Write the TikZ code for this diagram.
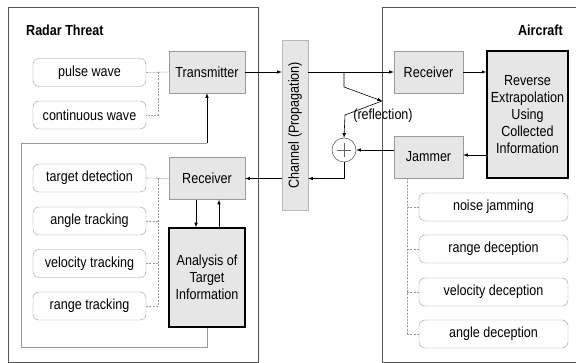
\documentclass[tikz,border=0pt]{standalone}
\usepackage{fontspec}
\setmainfont[FakeStretch=0.86]{Liberation Sans}
\usetikzlibrary{calc}

\definecolor{boxgray}{HTML}{E6E6E6}
\definecolor{edgegray}{HTML}{9A9A9A}
\definecolor{framegray}{HTML}{555555}

\tikzset{
  txt/.style={font=\fontsize{14.6}{17}\selectfont, inner sep=0pt},
  block/.style={txt, draw=edgegray, fill=boxgray, minimum width=76pt, minimum height=42pt},
  bigblock/.style={block, draw=black, line width=1.3pt, align=center},
  item/.style={txt, draw=edgegray, rounded corners=6pt, minimum width=113pt, minimum height=28pt},
  arrow/.style={-latex, line width=0.6pt},
  dashline/.style={draw=edgegray, dash pattern=on 2pt off 1.2pt, line width=0.6pt},
  title/.style={txt, font=\fontsize{14.6}{17}\selectfont\bfseries}
}

\begin{document}
\begin{tikzpicture}[x=1pt,y=-1pt]
\useasboundingbox (0,0) rectangle (576,363);

% Rahmen
\draw[framegray, line width=0.8pt] (8,7) rectangle (258,362);
\draw[framegray, line width=0.8pt] (580,7) -- (382,7) -- (382,362) -- (580,362);

\node[title, anchor=west] (threat) at (26,30) {Radar Threat};
\node[title, anchor=east] (aircraft) at (563,30) {Aircraft};

% Radar
\node[block] (tx) at (207,72) {Transmitter};
\node[block] (rxt) at (207,178.5) {Receiver};
\node[bigblock, minimum height=99pt] (an) at (207,277.5)
{Analysis of\\Target\\Information};

\node[item] (pulse) at (89.5,72.5) {pulse wave};
\node[item] (cont) at (89.5,115) {continuous wave};
\node[item] (detect) at (89.5,178) {target detection};
\node[item] (angtr) at (89.5,221) {angle tracking};
\node[item] (veltr) at (89.5,263.5) {velocity tracking};
\node[item] (rngtr) at (89.5,306) {range tracking};

% Kanal
\node[txt, draw=edgegray!70, fill=boxgray, minimum width=26pt, minimum height=170pt]
(chan) at (295,125) {};
\node[txt, rotate=90] (chantext) at (chan.center) {Channel (Propagation)};

% Flugzeug
\node[block, minimum width=69pt] (rxa) at (428.5,72) {Receiver};
\node[block, minimum width=69pt] (jam) at (428.5,157) {Jammer};
\node[bigblock, minimum width=81pt, minimum height=127pt] (rev) at (527.5,114.5)
{Reverse\\Extrapolation\\Using\\Collected\\Information};

\node[item, minimum width=149pt] (noise) at (493.5,207) {noise jamming};
\node[item, minimum width=149pt] (rngdec) at (493.5,249) {range deception};
\node[item, minimum width=149pt] (veldec) at (493.5,292) {velocity deception};
\node[item, minimum width=149pt] (angdec) at (493.5,334) {angle deception};

\node[draw=black!70, circle, minimum size=24pt, inner sep=0pt, line width=0.5pt] (sum) at (344,150) {};
\draw[black!60, line width=0.4pt] ($(sum)+(-7,0)$) -- ($(sum)+(7,0)$);
\draw[black!60, line width=0.4pt] ($(sum)+(0,-7)$) -- ($(sum)+(0,7)$);

\node[txt] (refltext) at (383,115.5) {(reflection)};

% Verbindungen
\coordinate (split) at (344,72);
\coordinate (refl) at (382,101);

\draw[arrow] (tx.east) -- (tx.east -| chan.west);
\draw[arrow] (chan.east |- rxa) -- (rxa.west);
\draw[arrow] (rxa.east) -- (rev.west |- rxa);
\draw[arrow] (split) -- ++(0,15) -- (refl);
\draw[arrow] (refl) -- (345,115) -- (sum.north);
\draw[arrow] (rev.west |- 0,155) -- (jam.east |- 0,155);
\draw[arrow] (jam.west |- sum) -- (sum.east);
\draw[arrow] (sum.south) -- (344,178.5) -- (chan.east |- 0,178.5);
\draw[arrow] (chan.west |- rxt) -- (rxt.east);
\draw[arrow] ([xshift=-11pt]rxt.south) -- ([xshift=-11pt]an.north);
\draw[arrow] ([xshift=12pt]an.north) -- ([xshift=12pt]rxt.south);

% Rueckfuehrung
\draw[edgegray, line width=0.8pt] (an.south) -- (207,347) -- (21,347) -- (21,143) -- (207,143);
\draw[arrow] (207,143.4) -- (tx.south);

% gestrichelt
\draw[dashline] (pulse.east) -- (tx.west);
\draw[dashline] (158,72) -- (158,115) -- (cont.east);
\draw[dashline] (detect.east) -- (rxt.west);
\draw[dashline] (158,178) -- (158,306);
\foreach \n in {angtr,veltr,rngtr}
  \draw[dashline] (\n.east) -- (\n.east -| 158,0);
\draw[dashline] ([xshift=-21.5pt]jam.south) -- (407,334);
\foreach \n in {noise,rngdec,veldec,angdec}
  \draw[dashline] (\n.west) -- (\n.west -| 407,0);

\end{tikzpicture}
\end{document}
